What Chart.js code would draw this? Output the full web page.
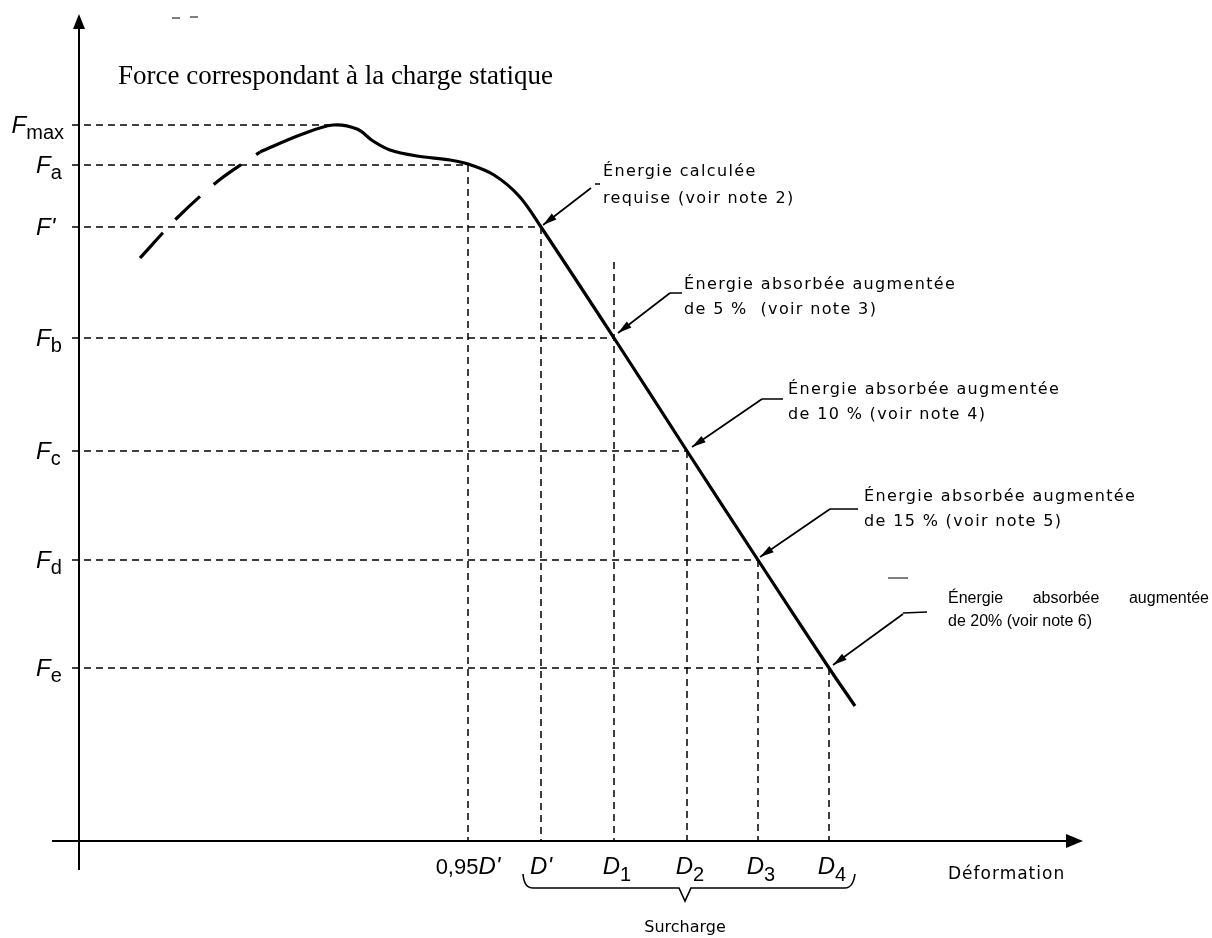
<!DOCTYPE html>
<html lang="fr">

<head>
  <meta charset="UTF-8" />
  <title>Force / déformation</title>
  <script src="https://cdn.jsdelivr.net/npm/chart.js@4.4.1/dist/chart.umd.min.js"></script>
  <style>
    html, body { margin: 0; padding: 0; background: #fff; }
    .chart-wrapper { width: 1212px; height: 938px; }
  </style>
</head>

<body>
  <div class="chart-wrapper"><canvas id="force-graph"></canvas></div>

<script>
  // deformation marks on the x axis
  const dLabels = [["0,95", "D'", ""], ["", "D'", ""], ["", "D", "1"], ["", "D", "2"], ["", "D", "3"], ["", "D", "4"]];
  const dValues = [3.89, 4.62, 5.35, 6.08, 6.79, 7.50];
  const dTops = [6.76, 6.14, 5.79, 3.90, 2.81, 1.73]; // top of each vertical guide

  // force levels on the y axis
  const fLabels = [["F", "max"], ["F", "a"], ["F'", ""], ["F", "b"], ["F", "c"], ["F", "d"], ["F", "e"]];
  const fValues = [7.16, 6.76, 6.14, 5.03, 3.90, 2.81, 1.73];
  const fEnds = [2.54, 3.89, 4.62, 5.35, 6.08, 6.79, 7.50]; // where each horizontal guide stops

  // dashed start of the curve
  const rampX = [0.61, 0.98, 1.39, 1.81];
  const rampY = [5.83, 6.23, 6.60, 6.89];

  // solid part of the curve
  const curveX = [1.81, 2.21, 2.54, 2.78, 2.94, 3.11, 3.38, 3.71, 3.89, 4.15, 4.40, 4.62, 5.35, 6.08, 6.79, 7.50, 7.76];
  const curveY = [6.89, 7.06, 7.16, 7.12, 7.00, 6.91, 6.85, 6.81, 6.77, 6.66, 6.45, 6.14, 5.03, 3.90, 2.81, 1.73, 1.35];

  // notes pointing at (dValues[d], fValues[f])
  const notes = [
    { d: 1, f: 2, lines: ["Énergie calculée", "requise (voir note 2)"] },
    { d: 2, f: 3, lines: ["Énergie absorbée augmentée", "de 5 %  (voir note 3)"] },
    { d: 3, f: 4, lines: ["Énergie absorbée augmentée", "de 10 % (voir note 4)"] },
    { d: 4, f: 5, lines: ["Énergie absorbée augmentée", "de 15 % (voir note 5)"] },
    { d: 5, f: 6, lines: ["Énergie absorbée augmentée", "de 20% (voir note 6)"] }
  ];

  const title = "Force correspondant à la charge statique";
  const xTitle = "Déformation";
  const braceTitle = "Surcharge";

  // pixel offsets from the pointed point: arrow tip, elbow, leader, text x, line y's
  const noteLayout = [
    { tip: [2, -2], elbow: [50, -39], lead: [[54, -43], [59, -43]], tx: 62, ty: [-57, -30] },
    { tip: [4, -5], elbow: [56, -45], lead: [[56, -45], [68, -45]], tx: 70, ty: [-55, -30] },
    { tip: [5, -4], elbow: [75, -52], lead: [[75, -52], [96, -52]], tx: 101, ty: [-63, -38] },
    { tip: [2, -3], elbow: [72, -51], lead: [[72, -51], [100, -51]], tx: 106, ty: [-65, -40] },
    { tip: [4, -3], elbow: [74, -54], lead: [[74, -55], [98, -56]], tx: 119, ty: [-71, -48], small: true }
  ];

  const SANS = '"Liberation Sans", Arial, sans-serif';
  const NOTE_FONT = '16px "DejaVu Sans", sans-serif';

  function pts(xs, ys) {
    return xs.map((x, i) => ({ x: x, y: ys[i] }));
  }

  const guide = {
    borderColor: '#000', borderWidth: 1.5, borderDash: [7, 5],
    pointRadius: 0, showLine: true, fill: false, order: 5
  };

  const datasets = [
    {
      data: pts(rampX, rampY), borderColor: '#000', borderWidth: 3.2, borderDash: [34, 18],
      tension: 0.3, pointRadius: 0, showLine: true, order: 1
    },
    {
      data: pts(curveX, curveY), borderColor: '#000', borderWidth: 3.2,
      tension: 0.35, pointRadius: 0, showLine: true, order: 1
    },
    // axes
    {
      data: [{ x: 0, y: -0.29 }, { x: 0, y: 8.2 }], borderColor: '#000', borderWidth: 2,
      pointRadius: 0, showLine: true, order: 2
    },
    {
      data: [{ x: -0.27, y: 0 }, { x: 9.9, y: 0 }], borderColor: '#000', borderWidth: 2,
      pointRadius: 0, showLine: true, order: 2
    }
  ];
  fValues.forEach((f, i) => {
    datasets.push(Object.assign({ data: [{ x: -0.07, y: f }, { x: fEnds[i], y: f }] }, guide));
  });
  dValues.forEach((d, i) => {
    datasets.push(Object.assign({ data: [{ x: d, y: dTops[i] }, { x: d, y: 0 }] }, guide));
  });

  function arrowHead(ctx, fx, fy, tx, ty, len, half) {
    const a = Math.atan2(ty - fy, tx - fx);
    const bx = tx - len * Math.cos(a), by = ty - len * Math.sin(a);
    ctx.beginPath();
    ctx.moveTo(tx, ty);
    ctx.lineTo(bx + half * Math.sin(a), by - half * Math.cos(a));
    ctx.lineTo(bx - half * Math.sin(a), by + half * Math.cos(a));
    ctx.closePath();
    ctx.fill();
  }

  function runWidth(ctx, parts) {
    let w = 0;
    parts.forEach(p => { ctx.font = p[1]; w += ctx.measureText(p[0]).width; });
    return w;
  }

  // draws pieces of text one after the other: [text, font, dy]
  function run(ctx, parts, x, y, align) {
    const w = runWidth(ctx, parts);
    let cx = x;
    if (align === 'center') cx = x - w / 2;
    if (align === 'right') cx = x - w;
    parts.forEach(p => {
      ctx.font = p[1];
      ctx.fillText(p[0], cx, y + (p[2] || 0));
      cx += ctx.measureText(p[0]).width;
    });
  }

  const drawing = {
    id: 'drawing',
    afterDraw(chart) {
      const ctx = chart.ctx;
      const xs = chart.scales.x, ys = chart.scales.y;
      const X = v => xs.getPixelForValue(v);
      const Y = v => ys.getPixelForValue(v);
      ctx.save();
      ctx.fillStyle = '#000';
      ctx.strokeStyle = '#000';
      ctx.textAlign = 'left';
      ctx.textBaseline = 'alphabetic';

      // axis arrows
      arrowHead(ctx, X(0), Y(0), X(0), Y(8.27), 15, 6);
      arrowHead(ctx, X(0), Y(0), X(10.04), Y(0), 17, 7);

      // title
      ctx.font = '27px "Liberation Serif", "Times New Roman", serif';
      ctx.fillText(title, X(0.39), Y(7.57));

      // force labels: left aligned, long ones pushed left of the axis
      const itF = 'italic 24px ' + SANS, subF = '20px ' + SANS;
      fLabels.forEach((l, i) => {
        const py = Y(fValues[i]);
        const parts = [[l[0], itF, 0], [l[1], subF, 6]];
        const w = runWidth(ctx, parts);
        run(ctx, parts, Math.min(36, X(0) - 15 - w), py + 8, 'left');
      });

      // deformation labels
      const numF = '22px ' + SANS;
      dLabels.forEach((l, i) => {
        run(ctx, [[l[0], numF, 0], [l[1], itF, 0], [l[2], subF, 7]], X(dValues[i]) + (l[2] ? 3 : 0), Y(0) + 33, 'center');
      });

      ctx.font = '17px "DejaVu Sans", sans-serif';
      ctx.letterSpacing = '1px';
      ctx.fillText(xTitle, X(8.69), Y(0) + 38);
      ctx.letterSpacing = '0px';

      // brace under the overload range
      const bl = X(dValues[1]) - 18, br = X(dValues[5]) + 24, bm = X(dValues[3]) - 2;
      const by = Y(0) + 47;
      ctx.lineWidth = 1.6;
      ctx.beginPath();
      ctx.moveTo(bl, by - 14);
      ctx.quadraticCurveTo(bl + 1, by, bl + 10, by);
      ctx.lineTo(bm - 6, by);
      ctx.lineTo(bm, by + 13);
      ctx.lineTo(bm + 6, by);
      ctx.lineTo(br - 8, by);
      ctx.quadraticCurveTo(br, by, br + 2, by - 14);
      ctx.stroke();
      ctx.textAlign = 'center';
      ctx.font = '16px "DejaVu Sans", sans-serif';
      ctx.fillText(braceTitle, bm, by + 44);
      ctx.textAlign = 'left';

      // scan specks of the original sheet
      ctx.lineWidth = 1.2;
      ctx.beginPath();
      ctx.moveTo(172, 18); ctx.lineTo(180, 18);
      ctx.moveTo(190, 17); ctx.lineTo(198, 17);
      ctx.moveTo(888, 578); ctx.lineTo(908, 578);
      ctx.stroke();

      // notes with arrows
      notes.forEach((n, i) => {
        const lay = noteLayout[i];
        const px = X(dValues[n.d]), py = Y(fValues[n.f]);
        const tip = [px + lay.tip[0], py + lay.tip[1]];
        const el = [px + lay.elbow[0], py + lay.elbow[1]];
        ctx.lineWidth = 1.7;
        ctx.beginPath();
        ctx.moveTo(el[0], el[1]);
        ctx.lineTo(tip[0], tip[1]);
        ctx.moveTo(px + lay.lead[0][0], py + lay.lead[0][1]);
        ctx.lineTo(px + lay.lead[1][0], py + lay.lead[1][1]);
        ctx.stroke();
        arrowHead(ctx, el[0], el[1], tip[0], tip[1], 14, 3.8);

        const tx = px + lay.tx;
        if (lay.small) {
          ctx.font = '16px ' + SANS;
          // first line spread over the full width
          const words = n.lines[0].split(' ');
          const total = 261;
          const ww = words.map(w => ctx.measureText(w).width);
          const gap = (total - ww.reduce((a, b) => a + b, 0)) / (words.length - 1);
          let cx = tx;
          words.forEach((w, k) => { ctx.fillText(w, cx, py + lay.ty[0] + 6); cx += ww[k] + gap; });
          ctx.fillText(n.lines[1], tx, py + lay.ty[1] + 6);
        } else {
          ctx.font = NOTE_FONT;
          ctx.letterSpacing = '1.35px';
          ctx.fillText(n.lines[0], tx, py + lay.ty[0] + 6);
          ctx.fillText(n.lines[1], tx, py + lay.ty[1] + 6);
          ctx.letterSpacing = '0px';
        }
      });
      ctx.restore();
    }
  };

  new Chart(document.getElementById('force-graph').getContext('2d'), {
    type: 'scatter',
    data: { datasets: datasets },
    options: {
      responsive: true,
      maintainAspectRatio: false,
      animation: false,
      events: [],
      layout: { padding: 0 },
      plugins: { legend: { display: false }, tooltip: { enabled: false } },
      scales: {
        x: { type: 'linear', min: -0.79, max: 11.33, display: false },
        y: { type: 'linear', min: -0.97, max: 8.41, display: false }
      }
    },
    plugins: [drawing]
  });
</script>
</body>

</html>
